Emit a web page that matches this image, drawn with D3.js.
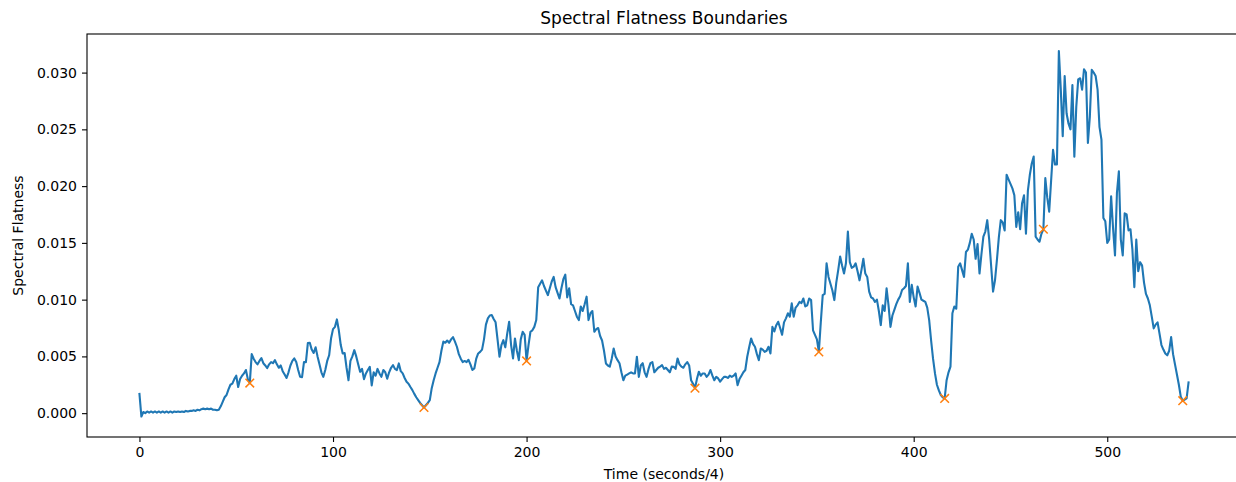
<!DOCTYPE html>
<html>
<head>
<meta charset="utf-8">
<script src="https://cdn.jsdelivr.net/npm/d3@7"></script>
<style>
  html, body { margin: 0; padding: 0; background: #fff; }
  svg { display: block; font-family: "DejaVu Sans", sans-serif; }
</style>
</head>
<body>
<svg id="chart" width="1236" height="482"></svg>
<script>
// ---- data ----
const flatness = [
  0.0017, -0.0003, 0.0001, 0.0, 0.00015, 0.00005, 0.00015, 0.00005, 0.00015, 0.00005,
  0.00015, 0.00005, 0.00015, 0.00005, 0.00015, 0.00005, 0.00015, 0.00005, 0.00015, 0.0001,
  0.00015, 0.0001, 0.00015, 0.0001, 0.0002, 0.00015, 0.0002, 0.0002, 0.00025, 0.0002,
  0.0003, 0.00025, 0.00035, 0.0004, 0.00035, 0.0004, 0.00035, 0.0004, 0.0003, 0.0003,
  0.00025, 0.0003, 0.0006, 0.0010, 0.0014, 0.0016, 0.0021, 0.0025, 0.0026, 0.0030,
  0.0033, 0.0023, 0.0030, 0.0033, 0.0035, 0.0038, 0.0030, 0.00265, 0.0052, 0.0048,
  0.0045, 0.0043, 0.0046, 0.00485, 0.0044, 0.0042, 0.00397, 0.0043, 0.0045, 0.0044,
  0.00467, 0.0043, 0.0040, 0.0042, 0.0037, 0.0034, 0.0031, 0.0036, 0.0042, 0.0046,
  0.00482, 0.0045, 0.0038, 0.0032, 0.00317, 0.0045, 0.0045, 0.00617, 0.0062, 0.0056,
  0.0053, 0.0058, 0.0050, 0.0043, 0.0036, 0.0032, 0.0038, 0.0046, 0.0051, 0.0066,
  0.0074, 0.0076, 0.00826, 0.0073, 0.0060, 0.00526, 0.0053, 0.0040, 0.0029, 0.0046,
  0.0050, 0.00555, 0.0050, 0.0043, 0.00364, 0.0039, 0.0030, 0.0035, 0.0038, 0.00408,
  0.00245, 0.0036, 0.0033, 0.0039, 0.0035, 0.0032, 0.0038, 0.0036, 0.00304, 0.0036,
  0.0040, 0.00423, 0.0039, 0.0038, 0.00438, 0.0037, 0.0035, 0.0031, 0.00276, 0.0026,
  0.0023, 0.00203, 0.0017, 0.0014, 0.00115, 0.0009, 0.0007, 0.0005, 0.0007, 0.0009,
  0.00115, 0.0022, 0.0029, 0.0035, 0.0040, 0.0045, 0.0055, 0.0063, 0.0062, 0.0064,
  0.0062, 0.0065, 0.0067, 0.0063, 0.00585, 0.0052, 0.0048, 0.0045, 0.0046, 0.0045,
  0.0047, 0.0043, 0.0038, 0.00394, 0.0048, 0.00526, 0.0054, 0.0056, 0.0065, 0.0078,
  0.00835, 0.0086, 0.00864, 0.0083, 0.0080, 0.0065, 0.00497, 0.0060, 0.00643, 0.0058,
  0.0070, 0.00805, 0.0060, 0.00482, 0.00658, 0.0055, 0.00467, 0.0065, 0.00717, 0.0069,
  0.0046, 0.0060, 0.00717, 0.0073, 0.0076, 0.0082, 0.0111, 0.0114, 0.0117, 0.0112,
  0.0108, 0.0104, 0.0110, 0.0116, 0.0120, 0.0111, 0.0106, 0.0101, 0.0110, 0.0118,
  0.0122, 0.0102, 0.0110, 0.0096, 0.0095, 0.0090, 0.0085, 0.0082, 0.0094, 0.0090,
  0.0096, 0.01026, 0.0082, 0.0088, 0.0090, 0.00717, 0.0074, 0.0075, 0.0068, 0.0064,
  0.0055, 0.00438, 0.0042, 0.0041, 0.0048, 0.0057, 0.0050, 0.00467, 0.0044, 0.0036,
  0.0029, 0.0033, 0.0034, 0.0035, 0.0036, 0.0035, 0.0035, 0.00497, 0.0032, 0.0042,
  0.0044, 0.0036, 0.0032, 0.0039, 0.0044, 0.0045, 0.0036, 0.0038, 0.0040, 0.0041,
  0.00423, 0.0039, 0.0040, 0.0038, 0.0036, 0.0041, 0.00408, 0.0039, 0.00482, 0.0043,
  0.0041, 0.0040, 0.0043, 0.0045, 0.0042, 0.0029, 0.0026, 0.0022, 0.0030, 0.00364,
  0.0033, 0.0035, 0.0035, 0.0032, 0.0034, 0.0038, 0.0033, 0.0029, 0.0032, 0.00306,
  0.00278, 0.0030, 0.0032, 0.0032, 0.0031, 0.0033, 0.0032, 0.0033, 0.0035, 0.00247,
  0.0030, 0.0033, 0.0036, 0.0038, 0.00497, 0.0058, 0.00658, 0.0061, 0.00585, 0.0052,
  0.00467, 0.0057, 0.0056, 0.0054, 0.0055, 0.00585, 0.00526, 0.0076, 0.0072, 0.00775,
  0.00805, 0.0075, 0.0069, 0.0080, 0.00835, 0.0088, 0.0085, 0.00967, 0.0085, 0.0093,
  0.0095, 0.0098, 0.0097, 0.0101, 0.0094, 0.0095, 0.0101, 0.00996, 0.0073, 0.0069,
  0.0065, 0.0054, 0.0080, 0.0104, 0.0105, 0.0132, 0.0120, 0.0114, 0.0108, 0.00996,
  0.0115, 0.0126, 0.0138, 0.0130, 0.0123, 0.0132, 0.0160, 0.0133, 0.0128, 0.0129,
  0.0132, 0.0125, 0.0117, 0.0126, 0.0136, 0.0123, 0.0120, 0.0107, 0.0102, 0.0101,
  0.0098, 0.0100, 0.0090, 0.00776, 0.0095, 0.0090, 0.0110, 0.0095, 0.0076, 0.0086,
  0.0091, 0.0096, 0.0100, 0.0103, 0.01085, 0.0110, 0.0112, 0.0132, 0.0098, 0.0113,
  0.0102, 0.0094, 0.01115, 0.0106, 0.0100, 0.0099, 0.0098, 0.0093, 0.0082, 0.0064,
  0.0048, 0.0035, 0.0025, 0.0020, 0.0016, 0.0014, 0.0013, 0.0029, 0.0036, 0.0041,
  0.0088, 0.0094, 0.0092, 0.0129, 0.0132, 0.0126, 0.0120, 0.0142, 0.0144, 0.0150,
  0.0158, 0.0153, 0.0136, 0.0149, 0.0123, 0.0140, 0.01555, 0.0160, 0.0170, 0.0153,
  0.0130, 0.0107, 0.0117, 0.0135, 0.0155, 0.0170, 0.0168, 0.0161, 0.0210, 0.0206,
  0.0202, 0.0198, 0.0192, 0.0164, 0.0177, 0.0162, 0.0185, 0.0192, 0.0158, 0.0196,
  0.0210, 0.0220, 0.0226, 0.01555, 0.0153, 0.0151, 0.0158, 0.0162, 0.0207, 0.0190,
  0.01775, 0.0205, 0.0232, 0.0219, 0.0219, 0.0319, 0.0285, 0.0244, 0.0297, 0.0264,
  0.0255, 0.0250, 0.0289, 0.0226, 0.0270, 0.0294, 0.0295, 0.0285, 0.0303, 0.0300,
  0.0238, 0.0261, 0.03025, 0.0300, 0.0297, 0.0285, 0.0252, 0.0241, 0.0172, 0.0169,
  0.0150, 0.0153, 0.0191, 0.0163, 0.0139, 0.0194, 0.0213, 0.0153, 0.0139, 0.0176,
  0.0175, 0.0161, 0.0162, 0.0144, 0.0111, 0.0153, 0.0125, 0.0133, 0.0130, 0.0115,
  0.0105, 0.0101, 0.0095, 0.0085, 0.00747, 0.0078, 0.0080, 0.0070, 0.0060, 0.0056,
  0.00526, 0.0051, 0.0055, 0.0067, 0.0052, 0.0043, 0.0034, 0.0025, 0.00144, 0.0011,
  0.0012, 0.0013, 0.0027
];
const boundaries = [57, 147, 200, 287, 351, 416, 467, 539];
const xTicks = [0, 100, 200, 300, 400, 500];
const yTicks = [0.000, 0.005, 0.010, 0.015, 0.020, 0.025, 0.030];
const titleText = "Spectral Flatness Boundaries";
const xLabelText = "Time (seconds/4)";
const yLabelText = "Spectral Flatness";

// ---- layout ----
const L = 87, R = 1241, T = 34, B = 437;
const svg = d3.select("#chart");

const n = flatness.length;
const xPad = (n - 1) * 0.05;
const x = d3.scaleLinear().domain([-xPad, (n - 1) + xPad]).range([L, R]);
const y = d3.scaleLinear().domain([-0.0021, 0.0334]).range([B, T]);

// line
const line = d3.line().x((d, i) => x(i)).y(d => y(d));
svg.append("path")
  .datum(flatness)
  .attr("fill", "none")
  .attr("stroke", "#1f77b4")
  .attr("stroke-width", 2.1)
  .attr("stroke-linejoin", "round")
  .attr("stroke-linecap", "square")
  .attr("d", line);

// boundary markers (x shapes)
const ms = 4.3;
const mk = svg.append("g").attr("stroke", "#ff7f0e").attr("stroke-width", 1.5);
boundaries.forEach(b => {
  const cx = x(b), cy = y(flatness[b]);
  mk.append("path").attr("d", `M${cx - ms},${cy - ms}L${cx + ms},${cy + ms}M${cx - ms},${cy + ms}L${cx + ms},${cy - ms}`);
});

// axes
const xAxis = d3.axisBottom(x).tickValues(xTicks).tickSize(5).tickPadding(5).tickSizeOuter(0).tickFormat(d3.format("d"));
const yAxis = d3.axisLeft(y).tickValues(yTicks).tickSize(5).tickPadding(5).tickSizeOuter(0).tickFormat(d3.format(".3f"));

const gx = svg.append("g").attr("transform", `translate(0,${B})`).call(xAxis);
const gy = svg.append("g").attr("transform", `translate(${L},0)`).call(yAxis);
[gx, gy].forEach(g => {
  g.select(".domain").remove();
  g.selectAll(".tick line").attr("stroke", "#000").attr("stroke-width", 1.1);
  g.selectAll(".tick text").attr("fill", "#000").style("font-size", "14px").style("font-family", "DejaVu Sans");
});

// spines
svg.append("rect")
  .attr("x", L).attr("y", T).attr("width", R - L).attr("height", B - T)
  .attr("fill", "none").attr("stroke", "#000").attr("stroke-width", 1.1);

// title and labels
svg.append("text").attr("x", (L + R) / 2).attr("y", 24)
  .attr("text-anchor", "middle").style("font-size", "17px").attr("fill", "#000")
  .text(titleText);
svg.append("text").attr("x", (L + R) / 2).attr("y", 479)
  .attr("text-anchor", "middle").style("font-size", "14px").attr("fill", "#000")
  .text(xLabelText);
svg.append("text").attr("transform", `translate(23,${(T + B) / 2}) rotate(-90)`)
  .attr("text-anchor", "middle").style("font-size", "14px").attr("fill", "#000")
  .text(yLabelText);
</script>
</body>
</html>
